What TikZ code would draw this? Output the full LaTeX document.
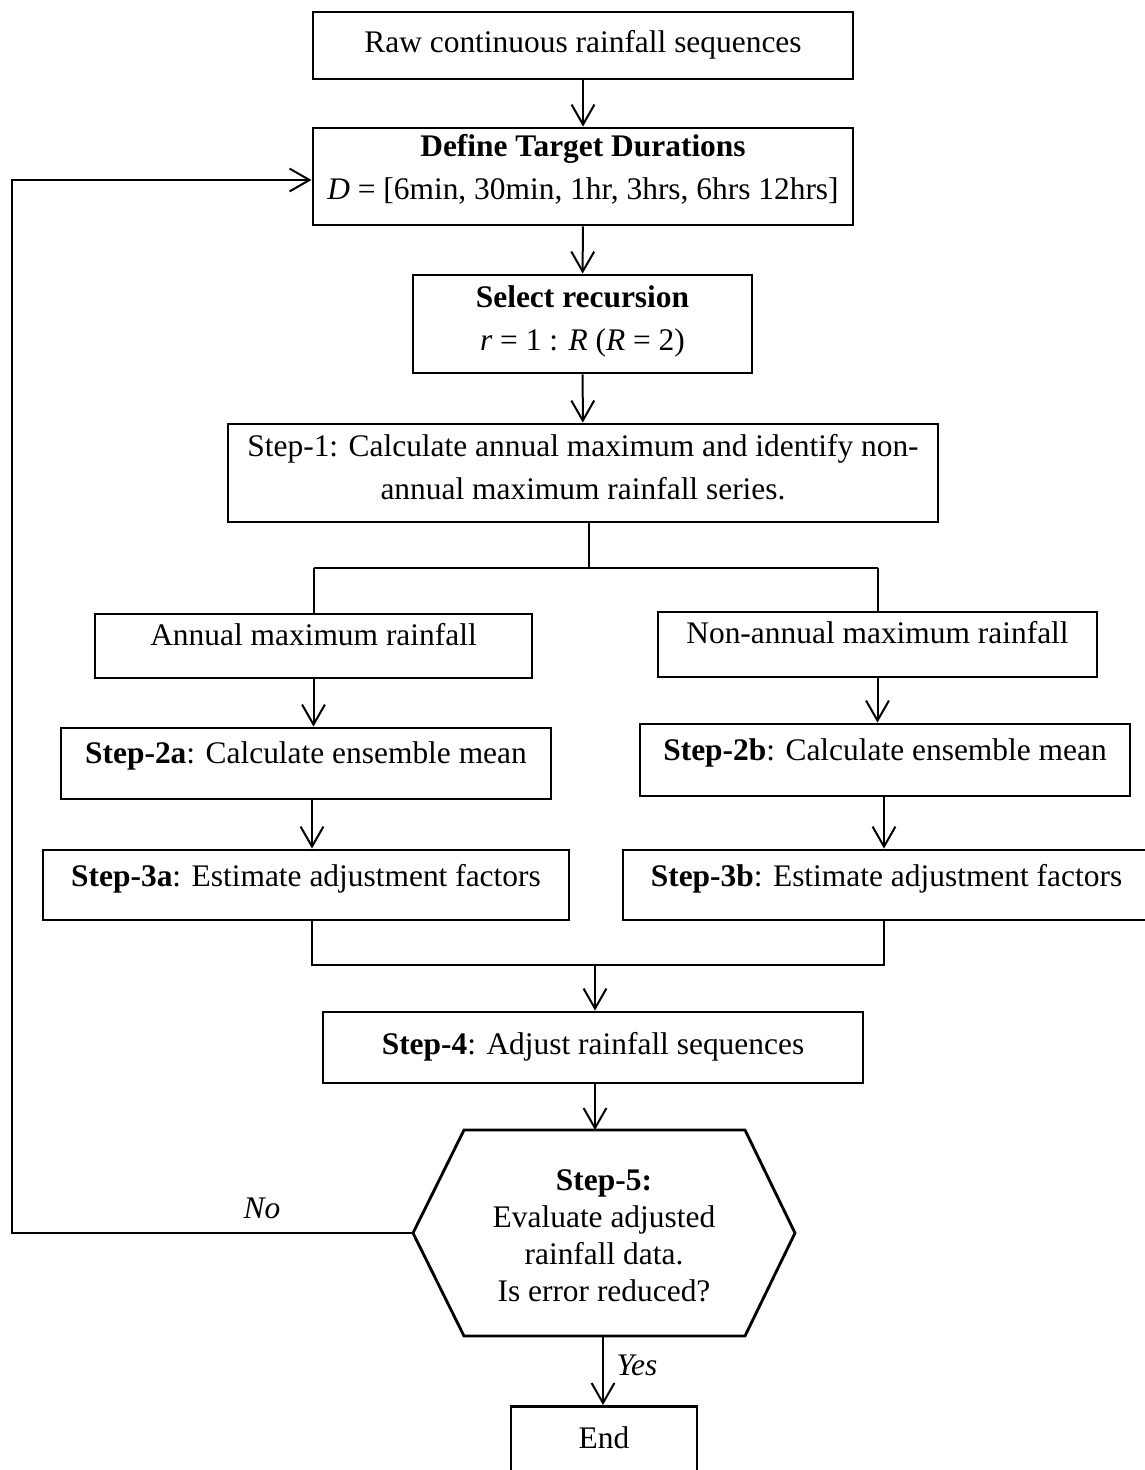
\documentclass[tikz,border=0pt]{standalone}
\usepackage{fontspec}
\setmainfont{Liberation Serif}
\usetikzlibrary{arrows.meta}

\begin{document}
\begin{tikzpicture}[x=0.35pt, y=-0.35pt, >={Straight Barb[length=7pt,width=8pt]},
    box/.style={draw, line width=1pt, inner sep=0pt, align=center, font=\fontsize{11}{15}\selectfont},
    size/.style 2 args={minimum width=#1*0.35pt, minimum height=#2*0.35pt},
    oneline/.style={text height=7pt, text depth=2pt},
    up/.style={text height=7pt, text depth=#1},
    lift/.style={text depth=#1},
    link/.style={line width=0.7pt},
    tag/.style={font=\fontsize{11}{13}\selectfont\itshape}]
    \useasboundingbox (0,0) rectangle (1145,1470);

    % Main column
    \node[box, oneline, size={540}{67}] (raw) at (583,45.5) {Raw continuous rainfall sequences};
    \node[box, lift=6.5pt, size={540}{97}] (define) at (583,176.5)
        {\textbf{Define Target Durations}\\\textit{D} = [6min, 30min, 1hr, 3hrs, 6hrs 12hrs]};
    \node[box, lift=4.3pt, size={339}{98}] (select) at (582.5,324)
        {\textbf{Select recursion}\\\textit{r} = 1 : \textit{R} (\textit{R} = 2)};
    \node[box, lift=4.2pt, size={710}{98}] (step1) at (583,473)
        {Step-1: Calculate annual maximum and identify non-\\annual maximum rainfall series.};

    % Two branches
    \node[box, up=7.5pt, size={437}{64}] (annual) at (313.5,646) {Annual maximum rainfall};
    \node[box, up=7.5pt, size={439}{65}] (nonannual) at (877.5,644.5) {Non-annual maximum rainfall};
    \node[box, up=7pt, size={490}{71}] (step2a) at (306,763.5) {\textbf{Step-2a}: Calculate ensemble mean};
    \node[box, up=7pt, size={490}{72}] (step2b) at (885,760) {\textbf{Step-2b}: Calculate ensemble mean};
    \node[box, up=6pt, size={526}{70}] (step3a) at (306,885) {\textbf{Step-3a}: Estimate adjustment factors};
    \node[box, up=6pt, size={527}{70}] (step3b) at (886.5,885) {\textbf{Step-3b}: Estimate adjustment factors};

    % Bottom part
    \node[box, oneline, size={540}{71}] (step4) at (593,1047.5) {\textbf{Step-4}: Adjust rainfall sequences};
    \node[box, draw=none, size={382}{206}, font=\fontsize{11}{13}\selectfont] (hex) at (604,1236)
        {\textbf{Step-5:}\\Evaluate adjusted\\rainfall data.\\Is error reduced?};
    \draw[line width=1pt] (413,1233) coordinate (hexleft) -- (464,1130) -- (745,1130) -- (795,1233)
        -- (745,1336) -- (464,1336) -- cycle;
    \node[box, up=7pt, size={186}{85}, anchor=north] (stop) at (604,1405) {End};

    % Labels
    \node[tag] (no) at (262,1208) {No};
    \node[tag] (yes) at (637,1365) {Yes};

    % Helper points
    \coordinate (split) at (589,568);
    \coordinate (merge) at (595,965);
    \coordinate (mergeL) at (312,965);
    \coordinate (mergeR) at (884,965);
    \coordinate (loop) at (12,180);
    \coordinate (hextop) at (595,1130);
    \coordinate (hexbot) at (603,1336);

    % Arrows
    \draw[link, ->] (raw) -- (define);
    \draw[link, ->] (define) -- (select);
    \draw[link, ->] (select) -- (step1);
    \draw[link] (step1.south -| split) -- (split);
    \draw[link] (split -| annual.north) -- (split -| nonannual.north);
    \draw[link] (split -| annual.north) -- (annual.north);
    \draw[link] (split -| nonannual.north) -- (nonannual.north);
    \draw[link, ->] (annual.south) -- (annual.south |- step2a.north);
    \draw[link, ->] (nonannual.south) -- (nonannual.south |- step2b.north);
    \draw[link, ->] (step2a.south -| mergeL) -- (step3a.north -| mergeL);
    \draw[link, ->] (step2b.south -| mergeR) -- (step3b.north -| mergeR);
    \draw[link] (step3a.south -| mergeL) -- (mergeL) -- (mergeR) -- (step3b.south -| mergeR);
    \draw[link, ->] (merge) -- (merge |- step4.north);
    \draw[link, ->] (step4.south -| hextop) -- (hextop);
    \draw[link, ->] (hexbot) -- (stop.north -| hexbot);
    \draw[link, ->] (hexleft) -| (loop) -- (loop -| define.west);
\end{tikzpicture}
\end{document}
